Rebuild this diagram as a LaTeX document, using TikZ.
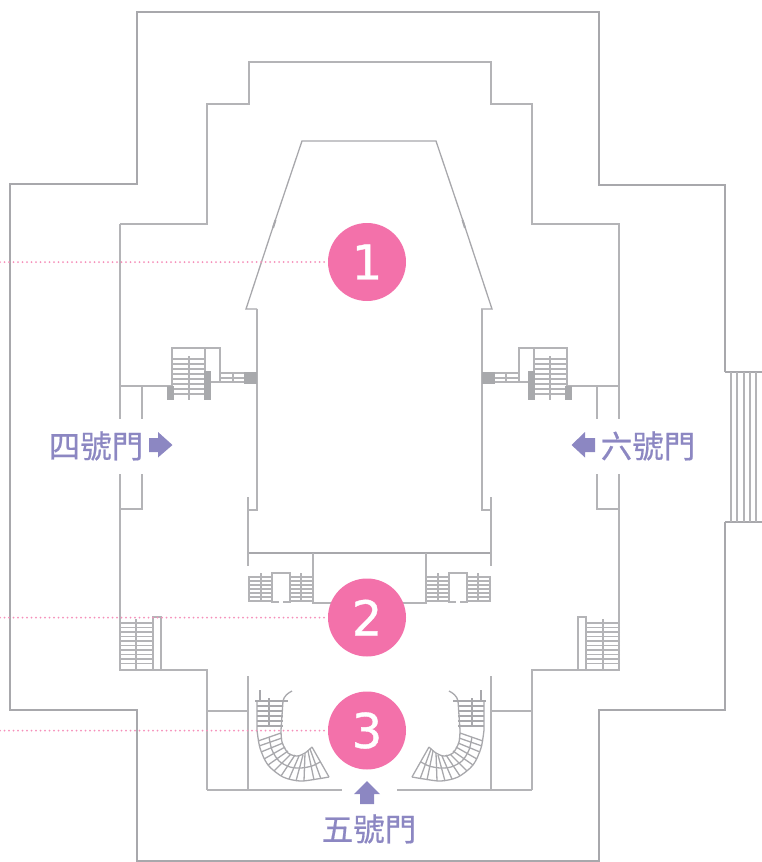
\documentclass[tikz,border=0pt]{standalone}
\usepackage{fontspec}
\usepackage{xcolor}
\setmainfont[FakeBold=0.8]{DejaVu Sans}
\newfontfamily\cjkfont[FakeBold=0.6]{Noto Sans CJK TC}
\definecolor{wallOuter}{HTML}{A8A8AC}
\definecolor{wallInner}{HTML}{B4B4B7}
\definecolor{pillar}{HTML}{A8A9AC}
\definecolor{spotPink}{HTML}{F371AA}
\definecolor{leadPink}{HTML}{F590BA}
\definecolor{doorBlue}{HTML}{8C87C2}
\tikzset{
    outerwall/.style={draw=wallOuter,line width=1.8pt,line join=miter},
    innerwall/.style={draw=wallInner,line width=1.4pt},
    tread/.style={draw=wallInner,line width=1.2pt},
    spiral/.style={draw=wallOuter,line width=1.3pt,line join=round},
    leader/.style={draw=leadPink,line width=2pt,line cap=round,dash pattern=on 0pt off 4.5pt},
    spot/.style={circle,fill=spotPink,text=white,minimum size=78pt,inner sep=0pt,font=\fontsize{48}{48}\selectfont},
    doorlabel/.style={text=doorBlue,inner sep=0pt,font=\fontsize{31.5}{33}\cjkfont},
    doorarrow/.style={fill=doorBlue}
}
% one half of the plan, drawn again mirrored
\newcommand{\drawWing}{
    % side walls and door gap
    \draw[innerwall] (120,224) -- (120,419);
    \draw[innerwall] (120,386) -- (172,386);
    \draw[innerwall] (142,386) -- (142,419);
    \draw[innerwall] (120,474) -- (120,670) -- (207,670) -- (207,790);
    \draw[innerwall] (142,474) -- (142,509) -- (119,509);
    \draw[innerwall] (257,309) -- (257,510) -- (248,510);
    \draw[innerwall] (248,497) -- (248,566);
    \draw[innerwall] (248,676) -- (248,790);
    \draw[innerwall] (207,711) -- (248,711);

    % upper stair
    \draw[innerwall] (172,394) -- (172,348) -- (220,348) -- (220,382) -- (205,382);
    \draw[innerwall] (205,348) -- (205,385);
    \draw[tread] (189,356) -- (189,400);
    \foreach \y in {359,364,369,374,379,384,389,394}
        \draw[tread] (172,\y) -- (205,\y);
    \foreach \y in {373,378,382}
        \draw[tread] (220,\y) -- (245,\y);
    \draw[tread] (233,373) -- (233,383);
    \fill[pillar] (167,386) rectangle (174,400);
    \fill[pillar] (204,371) rectangle (211,400);
    \fill[pillar] (244,372) rectangle (257,384);

    % stair beside the foyer
    \foreach \y in {577,581,585,589,593,597,601}
        \draw[tread] (248,\y) -- (313,\y);
    \foreach \x/\t in {249/577,261/573,301/573}
        \draw[tread] (\x,\t) -- (\x,602);
    \fill[white] (272,573) rectangle (290,604);
    \draw[innerwall] (279,602) -- (272,602) -- (272,573) -- (290,573) -- (290,602) -- (283,602);

    % lower stair
    \foreach \y in {623,627.5,632,636.5,641,645.5,650,654.5,659,663.5}
        \draw[tread] (119,\y) -- (153,\y);
    \draw[tread] (136,619) -- (136,670);
    \draw[innerwall] (153,670) -- (153,617) -- (161,617) -- (161,670);
    \draw[innerwall] (120,670) -- (161,670);
}
% curved stair at the front
\newcommand{\drawSpiral}{
    \draw[spiral] (255,701) -- (288,701);
    \draw[spiral] (260,690) -- (260,701);
    \draw[spiral] (283,701) .. controls (284,696) and (288,693) .. (292,691);
    \draw[spiral] (269,698) -- (269,727);
    \foreach \y in {706,711,716,721,726}
        \draw[spiral] (257,\y) -- (283,\y);
    \draw[spiral] (257,701) -- (257,730) plot[smooth] coordinates {(257,730) (260,748) (268,765) (283,777) (300,781) (317,779) (329,777)};
    \draw[spiral] (283,701) -- (281,730) plot[smooth] coordinates {(281,730) (282,742) (288,753) (297,756) (305,753) (312,747)};
    \draw[spiral] (312,747) -- (329,777);
    \draw[spiral] plot[smooth] coordinates {(269,737) (272,750) (279,761) (290,767) (301,768) (312,766) (320,762)};
    \foreach \a/\b/\c/\d in {281/733/258/741, 282/738/259/746, 283/743/261/752, 285/747/264/759, 288/751/268/765, 291/754/274/771, 295/755/281/776, 299/756/289/779, 303/755/296/781, 305/753/304/781, 308/751/314/780, 310/749/321/779}
        \draw[spiral] (\a,\b) -- (\c,\d);
}
\begin{document}
\begin{tikzpicture}[x=1pt,y=-1pt]
    \useasboundingbox (0,0) rectangle (762,862);

    % draw outer walls
    \draw[outerwall] (725,372) -- (725,185) -- (599,185) -- (599,12) -- (137,12) -- (137,184) -- (10,184) -- (10,710) -- (137,710) -- (137,861) -- (599,861) -- (599,710) -- (725,710) -- (725,522);

    % draw east steps
    \draw[outerwall] (725,372) -- (762,372);
    \draw[outerwall] (725,522) -- (762,522);
    \foreach \x in {731,737,744,750,756}
        \draw[tread] (\x,372) -- (\x,522);

    % draw middle walls
    \draw[innerwall] (120,224) -- (207,224) -- (207,104) -- (249,104) -- (249,62) -- (491,62) -- (491,104) -- (532,104) -- (532,224) -- (620,224);
    \draw[innerwall] (207,790) -- (342,790);
    \draw[innerwall] (397,790) -- (532,790);

    % draw hall
    \draw[outerwall,line width=1.3pt] (257,309) -- (246,309) -- (274,224) -- (302,141) -- (436,141) -- (464,224) -- (492,309) -- (481,309);
    \draw[outerwall,line width=2pt] (275.5,220) -- (273,228);
    \draw[outerwall,line width=2pt] (462.5,220) -- (465,228);
    \draw[outerwall,line width=1.5pt] (248,553) -- (491,553);
    \draw[innerwall] (313,553) -- (313,603) -- (426,603) -- (426,553);

    % draw both wings
    \drawWing
    \begin{scope}[xshift=739pt,xscale=-1]
        \drawWing
    \end{scope}
    \drawSpiral
    \begin{scope}[xshift=741pt,xscale=-1]
        \drawSpiral
    \end{scope}

    % draw numbered spots
    \coordinate (lead1) at (0,262);
    \coordinate (lead2) at (0,617.5);
    \coordinate (lead3) at (0,730.5);
    \node[spot] (spot1) at (367,262) {1};
    \node[spot] (spot2) at (367,617.5) {2};
    \node[spot] (spot3) at (367,730.5) {3};
    \draw[leader] (lead1) -- (spot1);
    \draw[leader] (lead2) -- (spot2);
    \draw[leader] (lead3) -- (spot3);

    % draw doors
    \node[doorlabel] (door4) at (96,446) {四號門};
    \node[doorlabel] (door6) at (648,446) {六號門};
    \node[doorlabel] (door5) at (369,829) {五號門};
    \fill[doorarrow] (149,438) -- (158,438) -- (158,432) -- (172.5,445) -- (158,457.5) -- (158,452) -- (149,452) -- cycle;
    \fill[doorarrow] (595,438) -- (585,438) -- (585,432) -- (571.5,445) -- (585,457.5) -- (585,452) -- (595,452) -- cycle;
    \fill[doorarrow] (360,804) -- (360,794) -- (354,794) -- (367,781) -- (380,794) -- (374,794) -- (374,804) -- cycle;
\end{tikzpicture}
\end{document}
